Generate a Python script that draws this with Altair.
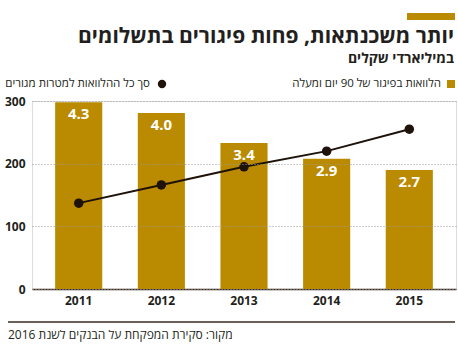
import altair as alt
import pandas as pd

years = ["2011", "2012", "2013", "2014", "2015"]
arrears = [298, 281, 233, 208, 190]          # bars (billions NIS)
arrears_labels = ["4.3", "4.0", "3.4", "2.9", "2.7"]
total_loans = [137, 166, 195, 220, 255]      # line (billions NIS)

title_text = "יותר משכנתאות, פחות פיגורים בתשלומים"
subtitle_text = "במיליארדי שקלים"
legend_bar = "הלוואות בפיגור של 90 יום ומעלה"
legend_line = "סך כל ההלוואות למטרות מגורים"
source_text = "מקור: סקירת המפקחת על הבנקים לשנת 2016"

GOLD = "#BA8A00"
DARK = "#1E120A"
TEXT = "#231F20"
FONT = "Open Sans"

df = pd.DataFrame({"year": years, "arrears": arrears, "label": arrears_labels, "total": total_loans})

W, H = 424, 188

xscale = alt.Scale(paddingInner=0.43, paddingOuter=0.28)
yscale = alt.Scale(domain=[0, 300])

base = alt.Chart(df)

bars = base.mark_bar(color=GOLD).encode(
    x=alt.X("year:N", scale=xscale, sort=years,
            axis=alt.Axis(title=None, labelAngle=0, ticks=False, domainColor="#3a2a20",
                          domainWidth=1.5, labelFont=FONT, labelFontSize=12, labelFontWeight="bold",
                          labelColor=TEXT, labelPadding=6, grid=False)),
    y=alt.Y("arrears:Q", scale=yscale,
            axis=alt.Axis(title=None, values=[0, 100, 200, 300], ticks=False, domain=False,
                          labelFont=FONT, labelFontSize=12, labelFontWeight="bold", labelColor=TEXT,
                          labelPadding=7, gridColor="#9a9a9a", gridDash=[1, 2], gridWidth=1, zindex=1)),
)

bar_text = base.mark_text(color="white", font=FONT, fontSize=15, fontWeight="bold",
                          baseline="top", dy=5).encode(
    x=alt.X("year:N", scale=xscale, sort=years),
    y=alt.Y("arrears:Q", scale=yscale),
    text="label:N",
)

line = base.mark_line(color=DARK, strokeWidth=2).encode(
    x=alt.X("year:N", scale=xscale, sort=years),
    y=alt.Y("total:Q", scale=yscale),
)
pts = base.mark_point(color=DARK, filled=True, opacity=1, size=90).encode(
    x=alt.X("year:N", scale=xscale, sort=years),
    y=alt.Y("total:Q", scale=yscale),
)

ann = alt.Chart(pd.DataFrame({"a": [0]}))

def txt(t, x, y, size, weight="normal", align="right", baseline="alphabetic"):
    return ann.mark_text(text=t, font=FONT, fontSize=size, fontWeight=weight, color=TEXT,
                         align=align, baseline=baseline).encode(x=alt.value(x), y=alt.value(y))

title = txt(title_text, 422, -58, 21, "bold")
subtitle = txt(subtitle_text, 422, -38, 14, "bold")
topbar = ann.mark_rect(color=GOLD).encode(x=alt.value(375), x2=alt.value(423), y=alt.value(-88), y2=alt.value(-81))

leg_sq = ann.mark_rect(color=GOLD).encode(x=alt.value(415), x2=alt.value(423), y=alt.value(-21), y2=alt.value(-13))
leg_bar_t = txt(legend_bar, 409, -17, 11.5, weight=500, baseline="middle")
leg_pt = ann.mark_point(color=DARK, filled=True, opacity=1, size=70).encode(x=alt.value(130), y=alt.value(-17))
leg_line_t = txt(legend_line, 118, -17, 11.5, weight=500, baseline="middle")

bottom_rule = ann.mark_rule(color="#3a2a20", strokeWidth=1.5).encode(
    x=alt.value(-24), x2=alt.value(423), y=alt.value(221))
source = txt(source_text, -24, 234, 12, align="left", baseline="middle")

chart = alt.layer(
    bars, line, pts, bar_text,
    title, subtitle, topbar, leg_sq, leg_bar_t, leg_pt, leg_line_t, bottom_rule, source,
).properties(
    width=W, height=H,
    padding={"left": 32, "top": 101, "right": 2, "bottom": 56},
    autosize=alt.AutoSizeParams(type="none"),
).configure_view(stroke=None).configure(background="white")

chart.save("out.html", embed_options={"renderer": "svg", "actions": False})
